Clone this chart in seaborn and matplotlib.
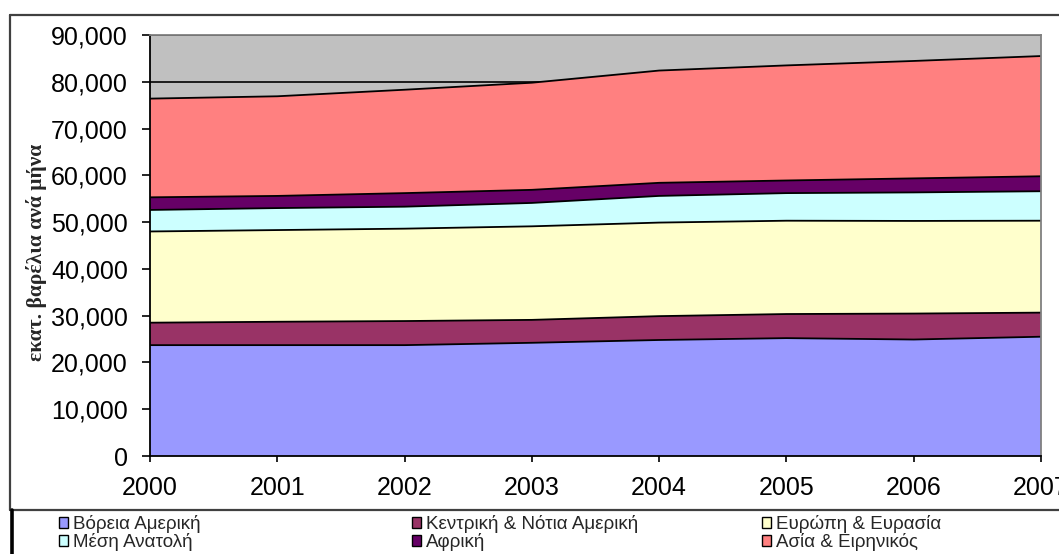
import numpy as np
import pandas as pd
import matplotlib
matplotlib.use("Agg")
import matplotlib.pyplot as plt
from matplotlib.patches import Patch
from matplotlib.lines import Line2D
from matplotlib.ticker import FuncFormatter
import seaborn as sns

# Oil consumption by region, million barrels (stacked)
years = [2000, 2001, 2002, 2003, 2004, 2005, 2006, 2007]
regions = ["Βόρεια Αμερική", "Κεντρική & Νότια Αμερική", "Ευρώπη & Ευρασία",
           "Μέση Ανατολή", "Αφρική", "Ασία & Ειρηνικός"]
north_america = [23700, 23700, 23700, 24200, 24800, 25200, 24900, 25500]
central_south_america = [4800, 5000, 5150, 4900, 5100, 5150, 5550, 5150]
europe_eurasia = [19500, 19600, 19750, 20000, 20000, 19950, 19800, 19650]
middle_east = [4600, 4700, 4700, 5000, 5700, 5900, 6100, 6300]
africa = [2700, 2600, 2900, 2800, 2800, 2700, 3000, 3200]
asia_pacific = [21100, 21300, 22100, 22900, 24000, 24600, 25100, 25700]
y_ticks = [0, 10000, 20000, 30000, 40000, 50000, 60000, 70000, 80000, 90000]
y_label = "εκατ. βαρέλια ανά μήνα"

colors = ["#9999FF", "#993366", "#FFFFCC", "#CCFFFF", "#660066", "#FF8080"]

series = [north_america, central_south_america, europe_eurasia,
          middle_east, africa, asia_pacific]
df = pd.DataFrame({r: s for r, s in zip(regions, series)}, index=years)
cum = df.cumsum(axis=1)
long_cum = cum.reset_index(names="year").melt(id_vars="year", var_name="region",
                                              value_name="top")

sns.set_style("white")
plt.rcParams["font.family"] = ["Liberation Sans", "DejaVu Sans"]

W, H = 1059, 554
fig = plt.figure(figsize=(W / 100, H / 100), dpi=100)
fig.patch.set_facecolor("white")

ax = fig.add_axes([150 / W, 1 - 456 / H, 891 / W, (456 - 35) / H])
ax.set_facecolor("#C0C0C0")
ax.set_axisbelow(True)
ax.yaxis.grid(True, color="black", linewidth=1.2)
ax.xaxis.grid(False)

ax.stackplot(years, *[df[r].values for r in regions], colors=colors,
             edgecolor="none", linewidth=0)
sns.lineplot(data=long_cum, x="year", y="top", units="region", estimator=None,
             color="black", linewidth=1.3, legend=False, ax=ax)

ax.set_xlim(years[0], years[-1])
ax.set_ylim(0, 90000)
ax.set_xticks(years)
ax.set_xticklabels([str(y) for y in years])
ax.set_yticks(y_ticks)
ax.yaxis.set_major_formatter(FuncFormatter(lambda v, p: f"{int(v):,}"))
ax.set_xlabel("")
ax.set_ylabel("")
ax.tick_params(axis="y", direction="out", length=6, width=1.2, pad=10,
               labelsize=18, left=True, colors="black")
ax.tick_params(axis="x", direction="out", length=4.5, width=1.2, pad=10,
               labelsize=18, bottom=True, colors="black")
for side in ["left", "bottom"]:
    ax.spines[side].set_color("black")
    ax.spines[side].set_linewidth(1.3)
for side in ["top", "right"]:
    ax.spines[side].set_color("#808080")
    ax.spines[side].set_linewidth(1.3)

fig.text(37 / W, 1 - 252 / H, y_label, rotation=90, ha="center", va="center",
         fontsize=15.5, fontweight="bold",
         family=["Liberation Serif", "DejaVu Serif"])

# Chart area outline and legend box
fig.add_artist(Line2D([10 / W, 1.0], [1 - 14.5 / H, 1 - 14.5 / H],
                      transform=fig.transFigure, color="#404040", linewidth=1.6))
fig.add_artist(Line2D([10 / W, 10 / W], [1 - 14.5 / H, 1 - 510 / H],
                      transform=fig.transFigure, color="#404040", linewidth=1.6))
fig.add_artist(Line2D([10 / W, 1.0], [1 - 510 / H, 1 - 510 / H],
                      transform=fig.transFigure, color="#404040", linewidth=1.6))
fig.add_artist(Line2D([11.5 / W, 11.5 / W], [1 - 510 / H, 0.0],
                      transform=fig.transFigure, color="black", linewidth=2.6))

# Legend in three columns of two rows
handles = [Patch(facecolor=c, edgecolor="black", linewidth=1.0) for c in colors]
col_x = [59, 412, 762]
for i, x in enumerate(col_x):
    idx = [i, i + 3]
    fig.legend([handles[j] for j in idx], [regions[j] for j in idx],
               loc="center left", bbox_to_anchor=(x / W, 1 - 533 / H),
               frameon=False, fontsize=13.5, handlelength=0.5, handleheight=0.5,
               handletextpad=0.25, labelspacing=0.0, borderpad=0,
               borderaxespad=0)

fig.savefig("out.png", dpi=100)
